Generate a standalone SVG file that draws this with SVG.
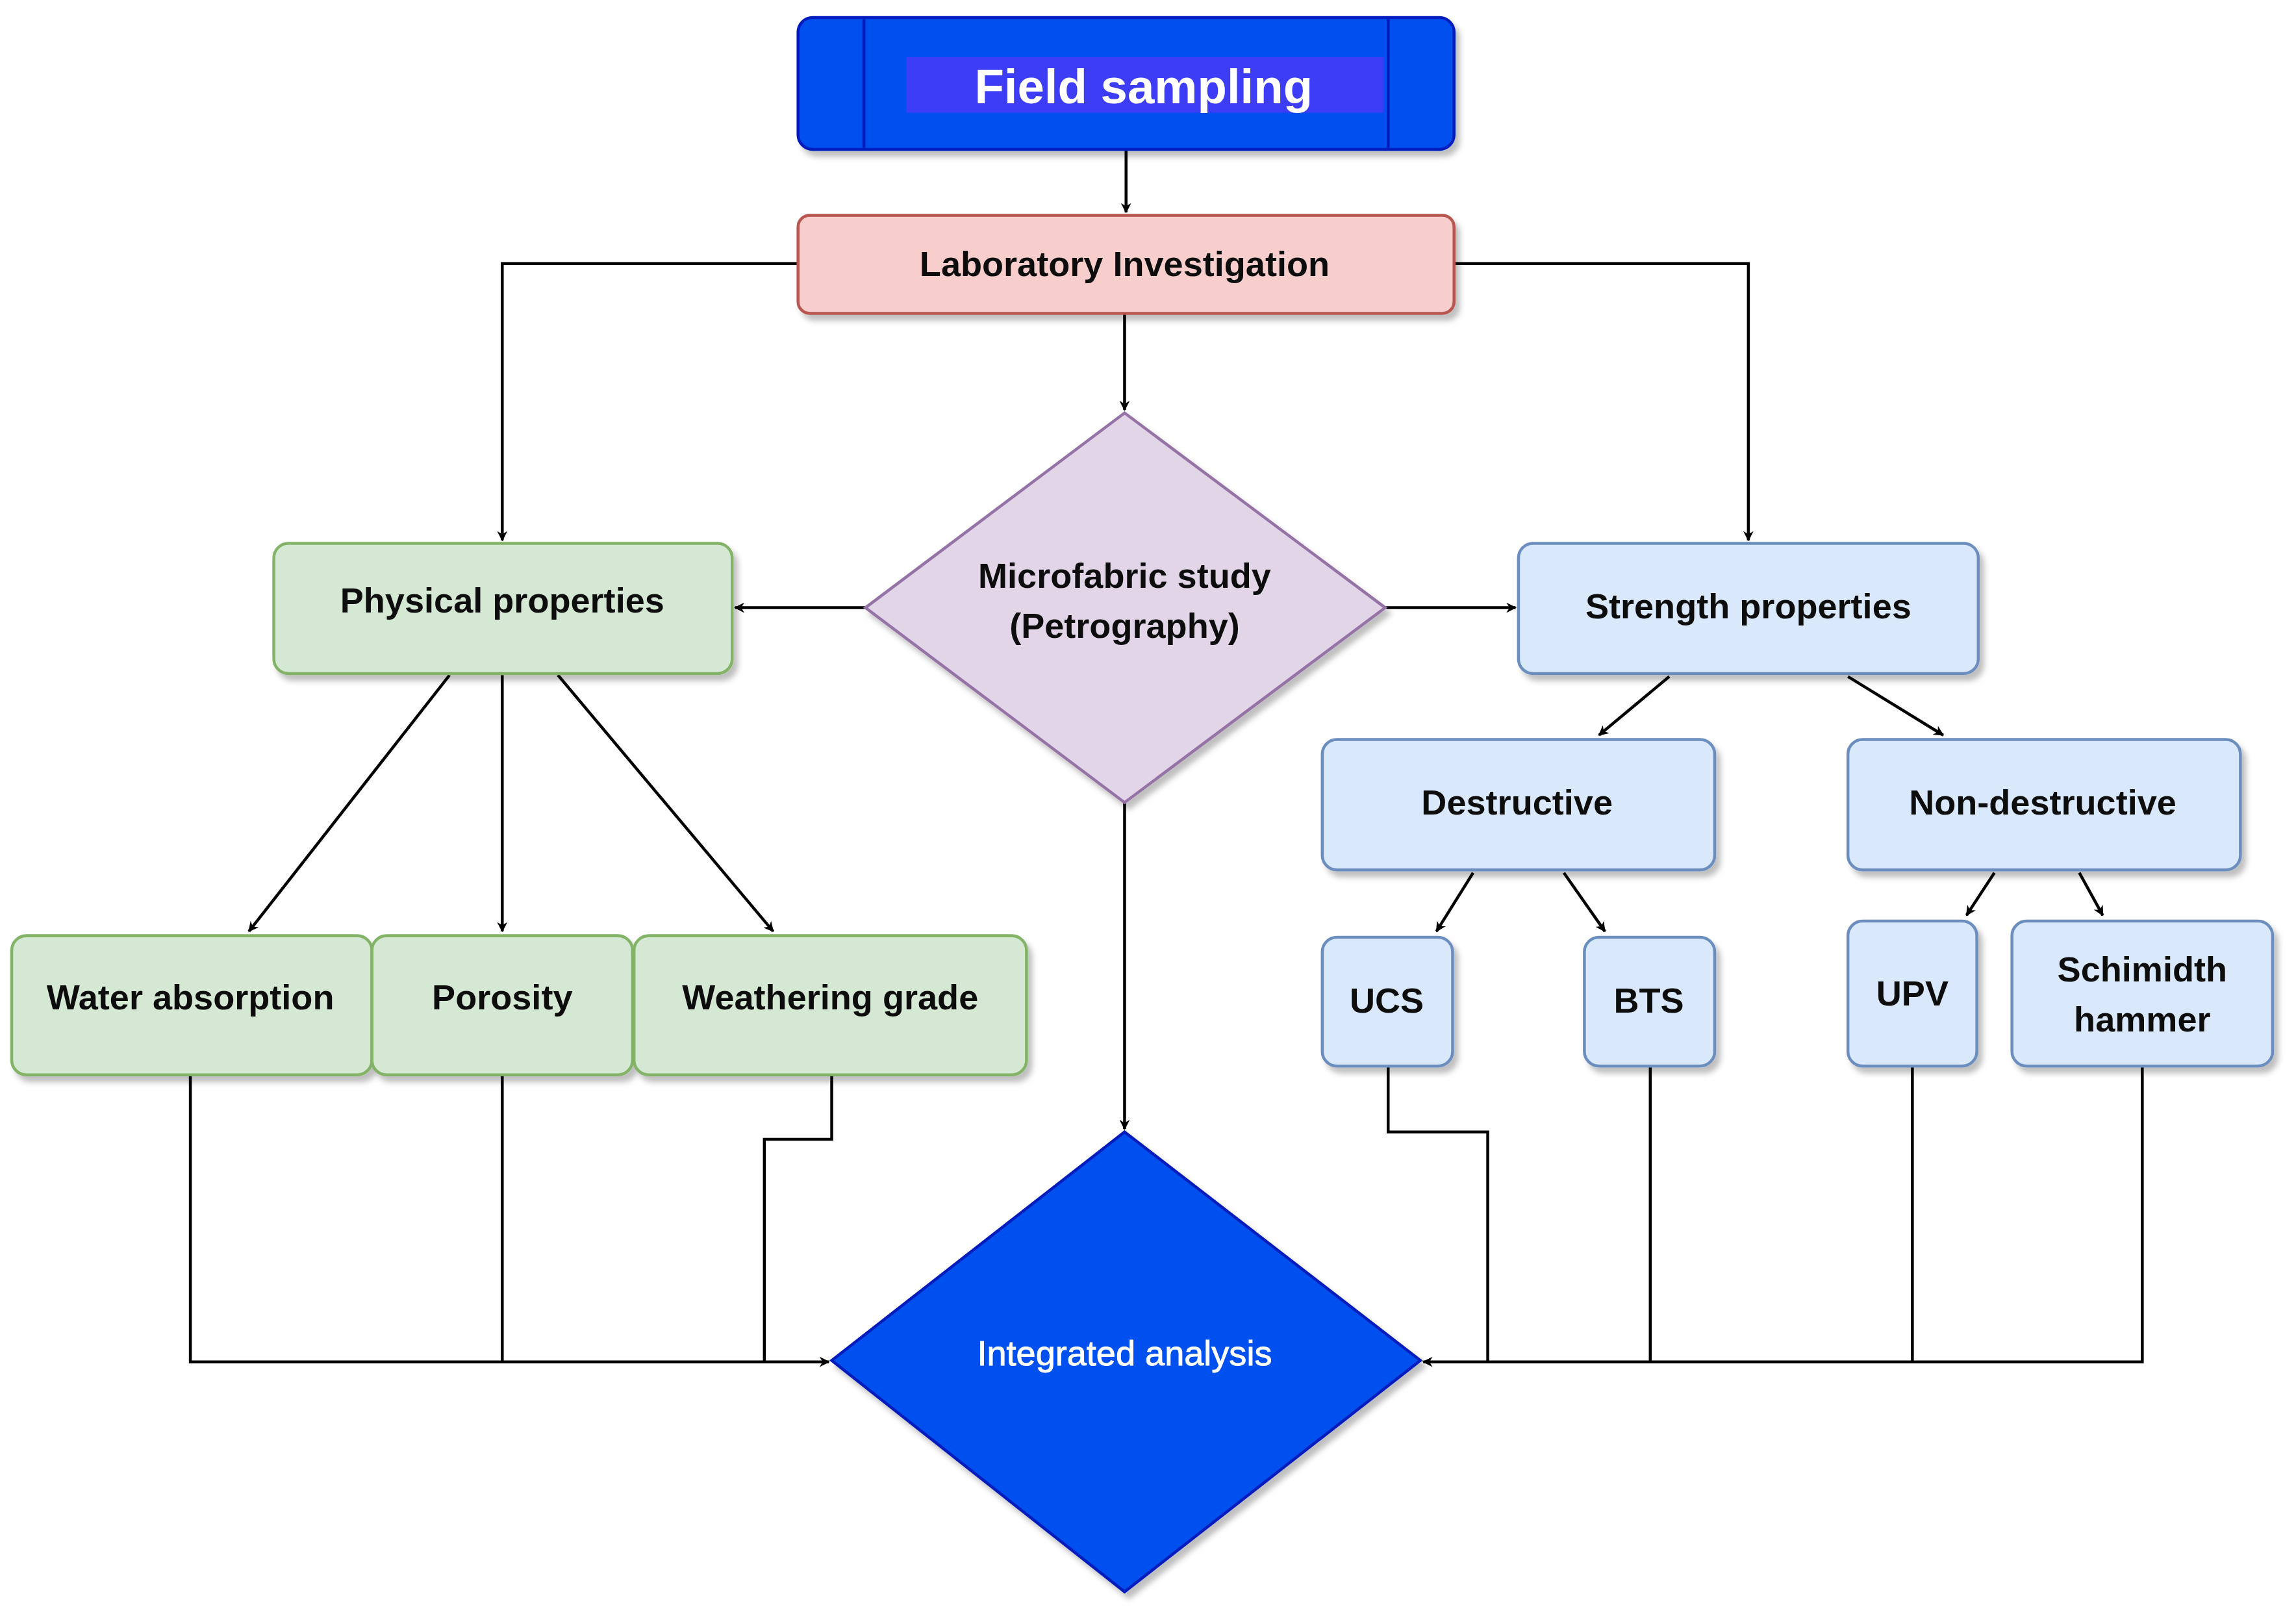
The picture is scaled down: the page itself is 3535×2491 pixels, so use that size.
<svg xmlns="http://www.w3.org/2000/svg" width="3535" height="2491" viewBox="0 0 3535 2491">
<style>
text{font-family:"Liberation Sans",Arial,sans-serif;font-weight:bold;text-anchor:middle;dominant-baseline:central;fill:#111}
.c{fill:none;stroke:#000;stroke-width:2}
.g{fill:#D5E8D4;stroke:#82B366;stroke-width:2}
.b{fill:#DAE8FC;stroke:#6C8EBF;stroke-width:2}
.t{font-size:24px}
</style>
<defs>
<marker id="a" viewBox="0 0 10 10" refX="9" refY="5" markerWidth="7" markerHeight="7" markerUnits="userSpaceOnUse" orient="auto"><path d="M0,0 L10,5 L0,10 L3,5 Z" fill="#000"/></marker>
<filter id="s" x="-10%" y="-10%" width="130%" height="140%"><feDropShadow dx="3" dy="4" stdDeviation="2" flood-color="#000" flood-opacity="0.25"/></filter>
</defs>
<rect width="3535" height="2491" fill="#fff"/>
<g transform="scale(2.2545)">
<g id="connectors">
<path class="c" d="M769,102 V145" marker-end="url(#a)"/>
<path class="c" d="M545,180 H343 V369" marker-end="url(#a)"/>
<path class="c" d="M993,180 H1194 V369" marker-end="url(#a)"/>
<path class="c" d="M768,214 V280" marker-end="url(#a)"/>
<path class="c" d="M591,415 H502" marker-end="url(#a)"/>
<path class="c" d="M946,415 H1035" marker-end="url(#a)"/>
<path class="c" d="M307,461 L170,636" marker-end="url(#a)" stroke="#333"/>
<path class="c" d="M343,461 V636" marker-end="url(#a)"/>
<path class="c" d="M381,461 L528,636" marker-end="url(#a)" stroke-width="2.6"/>
<path class="c" d="M1140,462 L1092,502" marker-end="url(#a)" stroke="#222"/>
<path class="c" d="M1262,462 L1327,502" marker-end="url(#a)" stroke-width="2.6"/>
<path class="c" d="M1006,596 L981,636" marker-end="url(#a)" stroke="#222"/>
<path class="c" d="M1068,596 L1096,636" marker-end="url(#a)" stroke="#222"/>
<path class="c" d="M1362,596 L1343,625" marker-end="url(#a)" stroke="#222"/>
<path class="c" d="M1420,596 L1436,625" marker-end="url(#a)" stroke="#222"/>
<path class="c" d="M768,548 V771" marker-end="url(#a)"/>
<path class="c" d="M130,734 V930 H566" marker-end="url(#a)"/>
<path class="c" d="M343,734 V930"/>
<path class="c" d="M568,734 V778 H522 V930"/>
<path class="c" d="M948,728 V773 H1016 V930 H972" marker-end="url(#a)"/>
<path class="c" d="M1127,728 V930"/>
<path class="c" d="M1306,728 V930"/>
<path class="c" d="M1463,728 V930 H1016"/>
</g>
<g id="field" filter="url(#s)">
<rect x="545" y="12" width="448" height="90" rx="10" fill="#0050EF" stroke="#001DBC" stroke-width="2"/>
<path d="M590,13 V101 M948,13 V101" stroke="#001DBC" stroke-width="2"/>
<rect x="619" y="39" width="326" height="38" fill="#3D3DF5"/>
<text x="781" y="59" style="font-size:33px;fill:#fff">Field sampling</text>
</g>
<g id="lab" filter="url(#s)">
<rect x="545" y="147" width="448" height="67" rx="8" fill="#F8CECC" stroke="#B85450" stroke-width="2"/>
<text class="t" x="768" y="180">Laboratory Investigation</text>
</g>
<g id="micro" filter="url(#s)">
<path d="M768,282 L946,415 L768,548 L591,415 Z" fill="#E1D5E7" stroke="#9673A6" stroke-width="2"/>
<text class="t" x="768" y="393">Microfabric  study</text>
<text class="t" x="768" y="427">(Petrography)</text>
</g>
<g id="physical" filter="url(#s)"><rect class="g" x="187" y="371" width="313" height="89" rx="10"/><text class="t" x="343" y="410">Physical properties</text></g>
<g id="strength" filter="url(#s)"><rect class="b" x="1037" y="371" width="314" height="89" rx="10"/><text class="t" x="1194" y="414">Strength properties</text></g>
<g id="water" filter="url(#s)"><rect class="g" x="8" y="639" width="246" height="95" rx="10"/><text class="t" x="130" y="681">Water absorption</text></g>
<g id="porosity" filter="url(#s)"><rect class="g" x="254" y="639" width="178" height="95" rx="10"/><text class="t" x="343" y="681">Porosity</text></g>
<g id="weathering" filter="url(#s)"><rect class="g" x="433" y="639" width="268" height="95" rx="10"/><text class="t" x="567" y="681">Weathering grade</text></g>
<g id="destructive" filter="url(#s)"><rect class="b" x="903" y="505" width="268" height="89" rx="10"/><text class="t" x="1036" y="548">Destructive</text></g>
<g id="nondestructive" filter="url(#s)"><rect class="b" x="1262" y="505" width="268" height="89" rx="10"/><text class="t" x="1395" y="548">Non-destructive</text></g>
<g id="ucs" filter="url(#s)"><rect class="b" x="903" y="640" width="89" height="88" rx="10"/><text class="t" x="947" y="683">UCS</text></g>
<g id="bts" filter="url(#s)"><rect class="b" x="1082" y="640" width="89" height="88" rx="10"/><text class="t" x="1126" y="683">BTS</text></g>
<g id="upv" filter="url(#s)"><rect class="b" x="1262" y="629" width="88" height="99" rx="10"/><text class="t" x="1306" y="678">UPV</text></g>
<g id="schmidt" filter="url(#s)"><rect class="b" x="1374" y="629" width="178" height="99" rx="10"/><text class="t" x="1463" y="662">Schimidth</text><text class="t" x="1463" y="696">hammer</text></g>
<g id="integrated" filter="url(#s)">
<path d="M768,773 L970,929 L768,1087 L568,929 Z" fill="#0050EF" stroke="#001DBC" stroke-width="2"/>
<text class="t" x="768" y="924" style="fill:#fff;font-weight:normal;stroke:#fff;stroke-width:0.4">Integrated analysis</text>
</g>
</g>
</svg>
